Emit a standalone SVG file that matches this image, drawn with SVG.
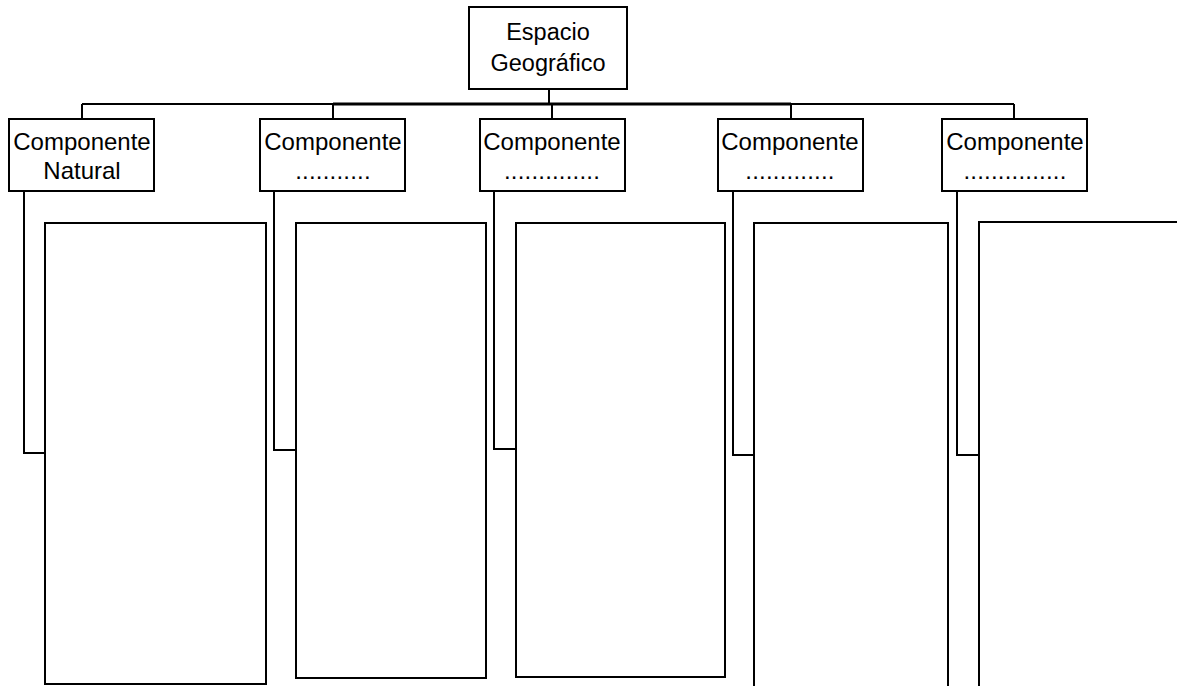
<svg xmlns="http://www.w3.org/2000/svg" width="1177" height="686" viewBox="0 0 1177 686">
<style>
.box{fill:#fff;stroke:#000;stroke-width:2}
.ln{fill:none;stroke:#000;stroke-width:2}
.thick{fill:none;stroke:#000;stroke-width:3}
.t{font-family:"Liberation Sans",Arial,sans-serif;font-size:24px;fill:#000;text-anchor:middle}
.tt{font-family:"Liberation Sans",Arial,sans-serif;font-size:23.5px;fill:#000;text-anchor:middle}
.d{letter-spacing:0.2px}
</style>
<rect width="1177" height="686" fill="#fff"/>
<g id="connectors">
<path class="ln" d="M549 89 V104 M82 104 H1014 M82 104 V119 M333 104 V119 M552 104 V119 M791 104 V119 M1014 104 V119"/>
<path class="thick" d="M333 104 H791"/>
<path class="ln" d="M24 191 V453 H45"/>
<path class="ln" d="M274 191 V450 H296"/>
<path class="ln" d="M494 191 V449 H516"/>
<path class="ln" d="M733 191 V455 H754"/>
<path class="ln" d="M957 191 V455 H979"/>
</g>
<g id="espacio">
<rect class="box" x="469" y="7" width="158" height="82"/>
<text class="tt" x="548" y="40">Espacio</text>
<text class="tt" x="548" y="71">Geográfico</text>
</g>
<g id="comp1">
<rect class="box" x="9" y="119" width="145" height="72"/>
<text class="t" x="82" y="150">Componente</text>
<text class="t" x="82" y="179">Natural</text>
</g>
<g id="comp2">
<rect class="box" x="260" y="119" width="145" height="72"/>
<text class="t" x="333" y="150">Componente</text>
<text class="t d" x="333" y="179">...........</text>
</g>
<g id="comp3">
<rect class="box" x="480" y="119" width="145" height="72"/>
<text class="t" x="552" y="150">Componente</text>
<text class="t d" x="552" y="179">..............</text>
</g>
<g id="comp4">
<rect class="box" x="718" y="119" width="145" height="72"/>
<text class="t" x="790" y="150">Componente</text>
<text class="t d" x="790" y="179">.............</text>
</g>
<g id="comp5">
<rect class="box" x="942" y="119" width="145" height="72"/>
<text class="t" x="1015" y="150">Componente</text>
<text class="t d" x="1015" y="179">...............</text>
</g>
<g id="panel1"><rect class="box" x="45" y="223" width="221" height="461"/></g>
<g id="panel2"><rect class="box" x="296" y="223" width="190" height="455"/></g>
<g id="panel3"><rect class="box" x="516" y="223" width="209" height="454"/></g>
<g id="panel4"><rect class="box" x="754" y="223" width="194" height="470"/></g>
<g id="panel5"><rect class="box" x="979" y="222" width="210" height="471"/></g>
</svg>
